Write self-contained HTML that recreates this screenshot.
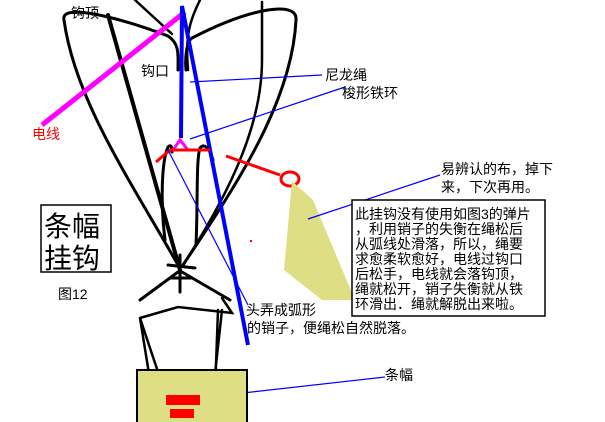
<!DOCTYPE html>
<html><head><meta charset="utf-8"><style>
html,body{margin:0;padding:0;background:#fff;width:605px;height:422px;overflow:hidden}
svg{display:block}
text{font-family:"Liberation Sans","Noto Sans CJK SC",sans-serif}
</style></head><body>
<svg width="605" height="422" viewBox="0 0 605 422">
<g fill="none" stroke="#000" stroke-linecap="round">
<path d="M178,265 C130,180 75,100 64,20 C60,2 120,18 168,36 C180,44 178,55 178,70" stroke-width="3"/>
<path d="M183,265 C235,185 262,120 262,60 C262,25 262,10 262,2 M200,0 C190,20 185,35 188,70" stroke-width="2.5"/>
<path d="M183,265 C240,180 292,100 296,20 C298,0 250,8 192,38 C186,42 185,60 186,70" stroke-width="3"/>
<path d="M108,15 L180,270" stroke-width="4"/>
<path d="M135,0 L172,34" stroke-width="2.5"/>
<path d="M165,240 C160,200 162,160 168,147 C172,143 172,150 172,152 M196,245 C198,200 196,160 200,148 C205,142 210,150 213,160" stroke-width="3"/>
<path d="M178,272 L140,300 M182,272 L230,300 M180,255 L180,292 M168,265 L195,268 M170,278 L192,278" stroke-width="3"/>
<path d="M140,318 L178,307 L232,313 L222,298 M140,318 L160,378 M140,318 L150,380 M218,310 L215,392 M222,310 L213,392 M155,380 L162,378" stroke-width="2.5"/>
</g>
<path d="M42,125 L185,12" stroke="#f0f" stroke-width="5"/>
<path d="M181,138 L182,6 L248,345" stroke="#00f" stroke-width="4" fill="none"/>
<path d="M180,140 L173,150 L188,150 Z" stroke="#f0f" stroke-width="3" fill="none"/>
<path d="M156,162 L170,150 L210,150" stroke="#f00" stroke-width="3" fill="none"/>
<path d="M226,156 L280,175" stroke="#f00" stroke-width="3"/>
<ellipse cx="290" cy="179" rx="9" ry="7" stroke="#f00" stroke-width="3" fill="none"/>
<polygon points="292,181 313,200 355,300 322,300 284,270" fill="#dede85"/>
<g stroke="#00f" stroke-width="1.2">
<line x1="190" y1="82" x2="322" y2="75"/>
<line x1="190" y1="139" x2="345" y2="87"/>
<line x1="308" y1="219" x2="440" y2="175"/>
<line x1="168" y1="150" x2="248" y2="305"/>
<line x1="225" y1="395" x2="385" y2="377"/>
</g>
<rect x="352" y="200" width="193" height="116" fill="#fff" stroke="#000" stroke-width="1.5"/>
<rect x="41" y="205" width="70" height="67" fill="#fff" stroke="#000" stroke-width="1.5"/>
<rect x="137" y="370" width="110" height="55" fill="#dede85" stroke="#000" stroke-width="2"/>
<rect x="166" y="395" width="34" height="10" fill="#f00"/>
<rect x="170" y="409" width="24" height="9" fill="#f00"/>
<rect x="250" y="240" width="2" height="2" fill="#f00"/>
<g font-size="14" fill="#000">
<text x="71" y="18">钩顶</text>
<text x="141" y="76">钩口</text>
<text x="32" y="139" fill="#f00">电线</text>
<text x="325" y="80">尼龙绳</text>
<text x="342" y="98">梭形铁环</text>
<text x="441" y="174">易辨认的布，掉下</text>
<text x="441" y="192">来，下次再用。</text>
<text x="246" y="315">头弄成弧形</text>
<text x="247" y="333">的销子，便绳松自然脱落。</text>
<text x="385" y="380">条幅</text>
<text x="58" y="299">图12</text>
</g>
<g font-size="14" fill="#000">
<text x="355" y="219">此挂钩没有使用如图3的弹片</text>
<text x="355" y="234">，利用销子的失衡在绳松后</text>
<text x="355" y="249">从弧线处滑落，所以，绳要</text>
<text x="355" y="264">求愈柔软愈好，电线过钩口</text>
<text x="355" y="279">后松手，电线就会落钩顶，</text>
<text x="355" y="294">绳就松开，销子失衡就从铁</text>
<text x="355" y="309">环滑出．绳就解脱出来啦。</text>
</g>
<g font-size="28" fill="#000">
<text x="44" y="236">条幅</text>
<text x="44" y="268">挂钩</text>
</g>
</svg>
</body></html>
